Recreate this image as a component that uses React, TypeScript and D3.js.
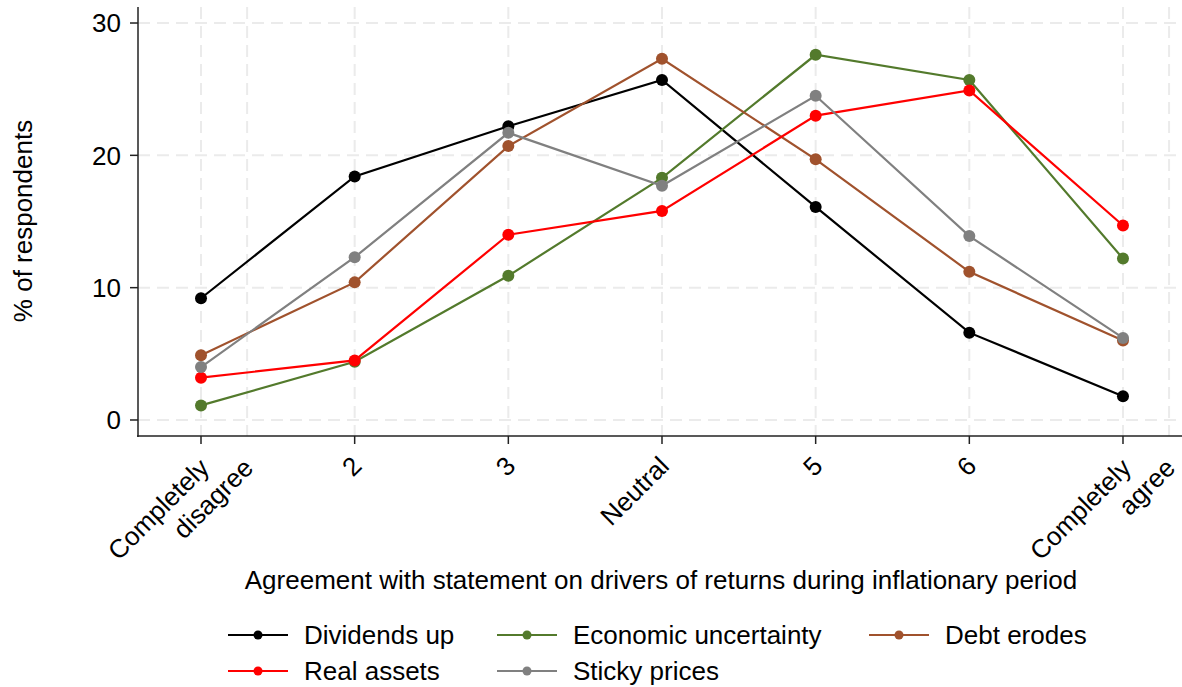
import React from "react";
import * as d3 from "d3";

const categories: number[] = [1, 2, 3, 4, 5, 6, 7];
const tickLabels: string[][] = [
  ["Completely", "disagree"],
  ["2"],
  ["3"],
  ["Neutral"],
  ["5"],
  ["6"],
  ["Completely", "agree"],
];
const yTicks: number[] = [0, 10, 20, 30];
const extraGrid: number[] = [1.3, 7.3];

const dividendsUp: number[] = [9.2, 18.4, 22.2, 25.7, 16.1, 6.6, 1.8];
const economicUncertainty: number[] = [1.1, 4.4, 10.9, 18.3, 27.6, 25.7, 12.2];
const debtErodes: number[] = [4.9, 10.4, 20.7, 27.3, 19.7, 11.2, 6.0];
const realAssets: number[] = [3.2, 4.5, 14.0, 15.8, 23.0, 24.9, 14.7];
const stickyPrices: number[] = [4.0, 12.3, 21.7, 17.7, 24.5, 13.9, 6.2];

const seriesNames: string[] = ["Dividends up", "Economic uncertainty", "Debt erodes", "Real assets", "Sticky prices"];
const seriesColors: string[] = ["#000000", "#537a2c", "#a0522d", "#ff0000", "#808080"];
const seriesValues: number[][] = [dividendsUp, economicUncertainty, debtErodes, realAssets, stickyPrices];

const W = 1182;
const H = 687;
const FONT = "'Liberation Sans', Arial, Helvetica, sans-serif";
const FS = 26;

export default function App() {
  const x = d3.scaleLinear().domain([0.59, 7.384]).range([138, 1182]);
  const y = d3.scaleLinear().domain([-1.21, 31.21]).range([436, 7]);
  const line = d3
    .line<number>()
    .x((_, i) => x(categories[i]))
    .y((d) => y(d));

  const legendPos = [
    { x: 228, y: 635 },
    { x: 497, y: 635 },
    { x: 869, y: 635 },
    { x: 228, y: 671 },
    { x: 497, y: 671 },
  ];

  return (
    <svg
      width={W}
      height={H}
      style={{ position: "absolute", left: 0, top: 0, background: "#fff" }}
      fontFamily={FONT}
    >
      <rect x={0} y={0} width={W} height={H} fill="#fff" />
      {/* grid */}
      {yTicks.map((t) => (
        <line
          key={"hg" + t}
          x1={138}
          x2={1182}
          y1={y(t)}
          y2={y(t)}
          stroke="#ebebeb"
          strokeWidth={2}
          strokeDasharray="12 7"
        />
      ))}
      {[...categories, ...extraGrid].map((c) => (
        <line
          key={"vg" + c}
          x1={x(c)}
          x2={x(c)}
          y1={7}
          y2={436}
          stroke="#ebebeb"
          strokeWidth={2}
          strokeDasharray="12 7"
        />
      ))}
      {/* axes */}
      <line x1={138} x2={138} y1={7} y2={437} stroke="#222" strokeWidth={1.5} />
      <line x1={137} x2={1182} y1={436} y2={436} stroke="#222" strokeWidth={1.5} />
      {yTicks.map((t) => (
        <g key={"yt" + t}>
          <line x1={130} x2={138} y1={y(t)} y2={y(t)} stroke="#222" strokeWidth={1.5} />
          <text x={121} y={y(t)} dy="0.36em" textAnchor="end" fontSize={FS} fill="#000">
            {t}
          </text>
        </g>
      ))}
      {categories.map((c, i) => {
        const tx = x(c);
        const lab = tickLabels[i];
        return (
          <g key={"xt" + c}>
            <line x1={tx} x2={tx} y1={436} y2={444} stroke="#222" strokeWidth={1.5} />
            {lab.length === 1 ? (
              <text
                transform={`translate(${tx + 2},${461}) rotate(-45)`}
                textAnchor="end"
                dy="0.36em"
                fontSize={FS}
                fill="#000"
              >
                {lab[0]}
              </text>
            ) : (
              lab.map((s, k) => (
                <text
                  key={k}
                  transform={`translate(${tx + 3 + k * 44},${463}) rotate(-45)`}
                  textAnchor="end"
                  dy="0.36em"
                  fontSize={FS}
                  fill="#000"
                >
                  {s}
                </text>
              ))
            )}
          </g>
        );
      })}
      {/* axis titles */}
      <text transform={`translate(32,221) rotate(-90)`} textAnchor="middle" fontSize={FS} fill="#000">
        % of respondents
      </text>
      <text x={661} y={589} textAnchor="middle" fontSize={FS} fill="#000">
        Agreement with statement on drivers of returns during inflationary period
      </text>
      {/* series */}
      {seriesValues.map((vals, s) => (
        <g key={"s" + s}>
          <path d={line(vals) || ""} fill="none" stroke={seriesColors[s]} strokeWidth={2.2} />
          {vals.map((v, i) => (
            <circle key={i} cx={x(categories[i])} cy={y(v)} r={6} fill={seriesColors[s]} />
          ))}
        </g>
      ))}
      {/* legend */}
      {seriesNames.map((n, s) => {
        const p = legendPos[s];
        return (
          <g key={"lg" + s}>
            <line x1={p.x} x2={p.x + 60} y1={p.y} y2={p.y} stroke={seriesColors[s]} strokeWidth={2.2} />
            <circle cx={p.x + 30} cy={p.y} r={4.5} fill={seriesColors[s]} />
            <text x={p.x + 76} y={p.y} dy="0.36em" fontSize={FS} fill="#000">
              {n}
            </text>
          </g>
        );
      })}
    </svg>
  );
}
